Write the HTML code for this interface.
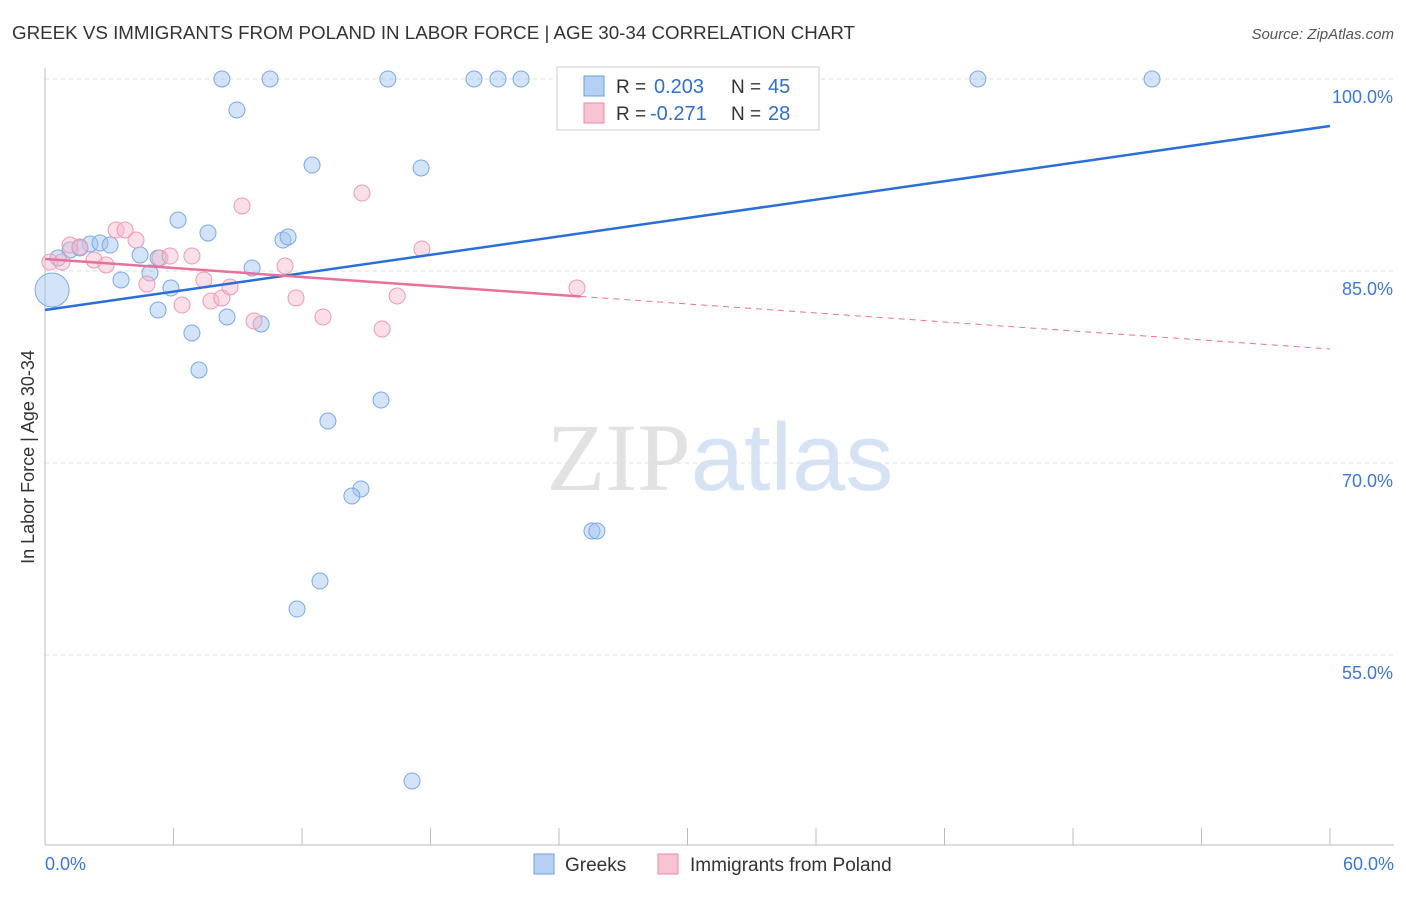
<!DOCTYPE html>
<html><head><meta charset="utf-8"><style>
body{margin:0;background:#fff;font-family:"Liberation Sans",sans-serif;}
svg text{font-family:"Liberation Sans",sans-serif;}
</style></head><body>
<svg id="chart" width="1406" height="892" xmlns="http://www.w3.org/2000/svg">
<text x="12" y="39" font-size="18" fill="#333" textLength="843" lengthAdjust="spacingAndGlyphs">GREEK VS IMMIGRANTS FROM POLAND IN LABOR FORCE | AGE 30-34 CORRELATION CHART</text>
<text x="1394" y="39" font-size="15" fill="#555" text-anchor="end" font-style="italic">Source: ZipAtlas.com</text>
<text x="720" y="490" font-size="96" text-anchor="middle"><tspan fill="#e2e2e2" font-family="Liberation Serif">ZIP</tspan><tspan fill="#d6e3f5">atlas</tspan></text>
<g id="grid"></g>
<g id="axes"></g>
<g id="marks"></g>
<text transform="translate(34,457) rotate(-90)" font-size="18" fill="#333" text-anchor="middle">In Labor Force | Age 30-34</text>
<g>
<rect x="557" y="67" width="262" height="63" fill="#fff" stroke="#ccc"/>
<rect x="584" y="76" width="20" height="20" fill="#b6d0f4" stroke="#6a9fe0"/>
<text x="616" y="93" font-size="19" fill="#333">R =</text>
<text x="654" y="93" font-size="20" fill="#2f6fd0">0.203</text>
<text x="731" y="93" font-size="19" fill="#333">N =</text>
<text x="768" y="93" font-size="20" fill="#2f6fd0">45</text>
<rect x="584" y="103" width="20" height="20" fill="#f8c4d4" stroke="#e88aa8"/>
<text x="616" y="120" font-size="19" fill="#333">R =</text>
<text x="650" y="120" font-size="20" fill="#2f6fd0">-0.271</text>
<text x="731" y="120" font-size="19" fill="#333">N =</text>
<text x="768" y="120" font-size="20" fill="#2f6fd0">28</text>
</g>
<g>
<rect x="534" y="854" width="20" height="20" fill="#b6d0f4" stroke="#6a9fe0"/>
<text x="565" y="871" font-size="19" fill="#333">Greeks</text>
<rect x="658" y="854" width="20" height="20" fill="#f8c4d4" stroke="#e88aa8"/>
<text x="690" y="871" font-size="19" fill="#333">Immigrants from Poland</text>
</g>
</svg>
<script>
const yTicks=[100,85,70,55];
const yTickLabels=["100.0%","85.0%","70.0%","55.0%"];
const xTicks=[0,6,12,18,24,30,36,42,48,54,60];
const greekX=[8.26,10.51,16.01,20.03,21.15,22.23,24.98,28.81,32.59,43.56,51.69,8.96,12.47,17.56,6.21,7.61,11.11,11.35,2.10,2.57,3.04,1.17,0.61,4.44,5.28,9.67,4.90,3.55,5.88,5.28,8.50,10.09,6.86,7.19,15.69,13.21,14.75,14.33,25.54,25.77,12.84,11.77,17.14,0.33,1.63];
const greekY=[100,100,100,100,100,100,100,100,100,100,100,97.58,93.28,93.05,88.98,87.97,87.42,87.66,87.11,87.19,87.03,86.64,86.02,86.25,86.02,85.23,84.84,84.30,83.67,81.95,81.41,80.86,80.16,77.27,74.92,73.28,67.97,67.42,64.69,64.69,60.78,58.59,45.16,83.52,86.80];
const greekR=[8,8,8,8,8,8,8,8,8,8,8,8,8,8,8,8,8,8,8,8,8,8,8,8,8,8,8,8,8,8,8,8,8,8,8,8,8,8,8,8,8,8,8,17,8];
const polX=[0.23,0.79,1.17,1.63,2.29,2.85,3.32,3.74,4.25,4.76,5.37,5.84,6.40,6.86,7.42,7.75,8.26,8.64,9.20,9.76,11.21,11.72,12.98,14.80,15.74,16.44,17.60,24.84];
const polY=[85.70,85.70,87.03,86.88,85.86,85.47,88.20,88.20,87.42,83.98,86.02,86.17,82.34,86.17,84.30,82.66,82.89,83.75,90.08,81.09,85.39,82.89,81.41,91.09,80.47,83.05,86.72,83.67];
const greekLine=[81.95,96.33];
const polLine=[85.94,78.91];
const polSolidEnd=25;
const NS="http://www.w3.org/2000/svg";
const X=v=>45+v/60*1285, Y=v=>79+(100-v)*12.8;
function mk(t,a,p){const e=document.createElementNS(NS,t);for(const k in a)e.setAttribute(k,a[k]);p.appendChild(e);return e;}
const grid=document.getElementById('grid'),axes=document.getElementById('axes'),marks=document.getElementById('marks');
yTicks.forEach((t,i)=>{
 const l=mk('line',{x1:45,x2:1394,y1:Y(t),y2:Y(t),stroke:'#ddd','stroke-dasharray':'4,4'},grid);
 
 
 const tx=mk('text',{x:1393,y:Y(t)+24,'font-size':18,fill:'#3a78d6','text-anchor':'end'},axes);
 tx.textContent=yTickLabels[i];
 
 
});
const ax=mk('line',{x1:45,x2:45,y1:68,y2:845,stroke:'#bbb'},axes);


const bx=mk('line',{x1:45,x2:1394,y1:845,y2:845,stroke:'#bbb'},axes);


xTicks.forEach(t=>{
 const l=mk('line',{x1:X(t),x2:X(t),y1:828,y2:845,stroke:'#bbb'},axes);
 
 
});
[[0,'0.0%','start',45],[60,'60.0%','end',1394]].forEach(d=>{
 const tx=mk('text',{x:d[3],y:870,'font-size':18,fill:'#3a78d6','text-anchor':d[2]},axes);
 tx.textContent=d[1];
 
 
});
greekX.forEach((x,i)=>{
 const c=mk('circle',{cx:X(x),cy:Y(greekY[i]),r:greekR[i],fill:'rgba(160,196,240,0.45)',stroke:'#7aa8e4','stroke-width':1},marks);
 
 
});
polX.forEach((x,i)=>{
 const c=mk('circle',{cx:X(x),cy:Y(polY[i]),r:8,fill:'rgba(246,184,204,0.45)',stroke:'#ec9ab4','stroke-width':1},marks);
 
 
});
const gl=mk('line',{x1:X(0),y1:Y(greekLine[0]),x2:X(60),y2:Y(greekLine[1]),stroke:'#2a6fd6','stroke-width':2.5},marks);


const pAt=x=>polLine[0]+(polLine[1]-polLine[0])*x/60;
const pl=mk('line',{x1:X(0),y1:Y(pAt(0)),x2:X(polSolidEnd),y2:Y(pAt(polSolidEnd)),stroke:'#e8709a','stroke-width':2.5},marks);


const pd=mk('line',{x1:X(polSolidEnd),y1:Y(pAt(polSolidEnd)),x2:X(60),y2:Y(pAt(60)),stroke:'#e8709a','stroke-width':1,'stroke-dasharray':'6,5'},marks);


</script>
</body></html>
